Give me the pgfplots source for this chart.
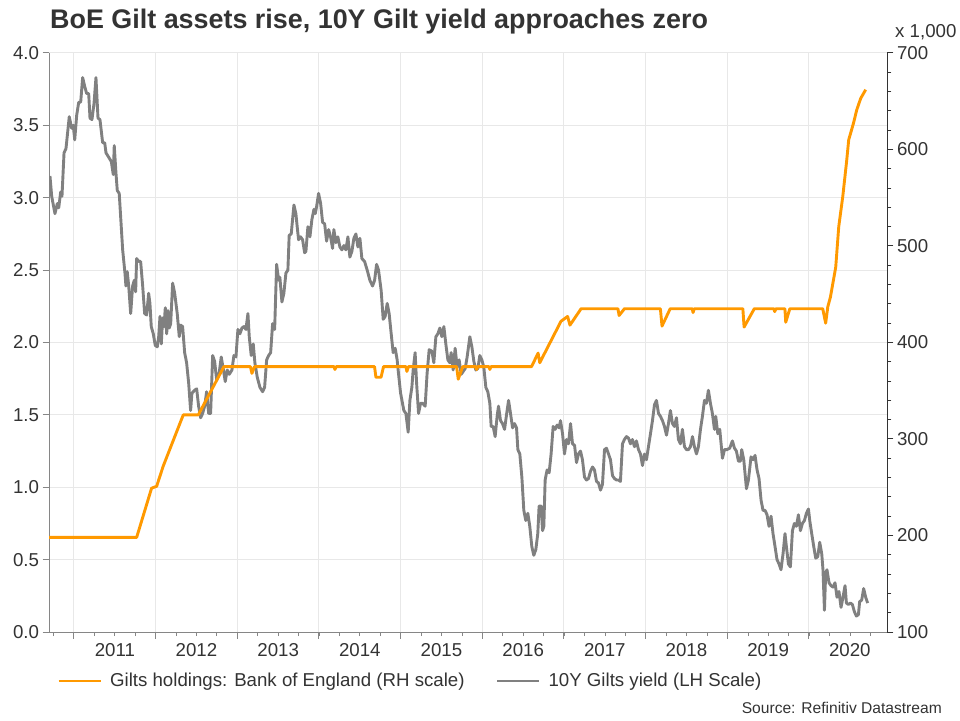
\documentclass[border=0pt]{standalone}
\usepackage{fontspec}
\setmainfont{Liberation Sans}
\usepackage{pgfplots}
\usepackage{pgfplotstable}
\pgfplotsset{compat=1.18}
\definecolor{gilt}{RGB}{128,128,128}
\definecolor{boe}{RGB}{255,153,0}
\definecolor{gridc}{RGB}{232,232,232}
\definecolor{axgray}{RGB}{134,134,134}
\definecolor{txt}{RGB}{51,51,51}

\pgfplotstableread{
x y
2010.706 3.15
2010.727 3.01
2010.767 2.89
2010.796 2.96
2010.813 2.93
2010.837 3.04
2010.853 3.01
2010.878 3.31
2010.902 3.34
2010.942 3.56
2010.972 3.48
2010.991 3.50
2011.009 3.40
2011.033 3.57
2011.058 3.66
2011.082 3.66
2011.106 3.83
2011.131 3.77
2011.155 3.72
2011.180 3.72
2011.196 3.55
2011.220 3.54
2011.245 3.65
2011.269 3.83
2011.294 3.55
2011.318 3.54
2011.351 3.38
2011.376 3.38
2011.392 3.31
2011.425 3.28
2011.457 3.25
2011.481 3.16
2011.493 3.36
2011.514 3.17
2011.530 3.05
2011.554 3.03
2011.596 2.64
2011.624 2.48
2011.636 2.39
2011.652 2.49
2011.670 2.39
2011.694 2.20
2011.718 2.39
2011.738 2.43
2011.755 2.35
2011.767 2.58
2011.792 2.56
2011.816 2.56
2011.841 2.39
2011.865 2.20
2011.890 2.19
2011.914 2.34
2011.930 2.27
2011.946 2.11
2011.971 2.06
2011.995 1.98
2012.020 1.97
2012.037 2.04
2012.053 2.18
2012.069 1.99
2012.086 2.17
2012.102 2.11
2012.118 2.24
2012.135 2.06
2012.151 2.22
2012.166 2.10
2012.184 2.13
2012.208 2.41
2012.233 2.34
2012.264 2.20
2012.289 2.04
2012.306 2.12
2012.330 2.11
2012.355 1.93
2012.379 1.86
2012.404 1.72
2012.428 1.53
2012.444 1.65
2012.477 1.67
2012.502 1.68
2012.526 1.56
2012.551 1.48
2012.575 1.51
2012.600 1.56
2012.624 1.66
2012.649 1.51
2012.673 1.51
2012.698 1.91
2012.722 1.87
2012.747 1.74
2012.778 1.79
2012.803 1.90
2012.827 1.82
2012.852 1.73
2012.876 1.81
2012.901 1.78
2012.934 1.81
2012.958 1.91
2012.983 1.90
2013.007 2.09
2013.032 2.06
2013.056 2.10
2013.081 2.11
2013.105 2.09
2013.130 2.20
2013.146 2.04
2013.170 1.91
2013.195 1.99
2013.215 1.86
2013.244 1.76
2013.277 1.69
2013.310 1.66
2013.334 1.69
2013.359 1.88
2013.383 1.91
2013.408 1.93
2013.432 2.13
2013.457 2.09
2013.481 2.54
2013.506 2.43
2013.521 2.45
2013.546 2.28
2013.570 2.34
2013.595 2.48
2013.619 2.50
2013.635 2.74
2013.660 2.75
2013.693 2.95
2013.717 2.89
2013.733 2.80
2013.750 2.71
2013.775 2.73
2013.799 2.71
2013.824 2.62
2013.840 2.63
2013.864 2.80
2013.889 2.73
2013.913 2.85
2013.938 2.92
2013.954 2.89
2013.971 2.94
2013.995 3.03
2014.020 2.96
2014.044 2.83
2014.069 2.82
2014.093 2.70
2014.118 2.78
2014.142 2.73
2014.166 2.65
2014.182 2.78
2014.207 2.69
2014.231 2.73
2014.256 2.66
2014.280 2.64
2014.305 2.67
2014.329 2.64
2014.354 2.73
2014.378 2.59
2014.403 2.63
2014.427 2.72
2014.452 2.75
2014.476 2.66
2014.501 2.72
2014.525 2.58
2014.558 2.56
2014.590 2.50
2014.623 2.43
2014.656 2.39
2014.681 2.43
2014.705 2.54
2014.729 2.50
2014.761 2.36
2014.786 2.16
2014.810 2.18
2014.835 2.27
2014.859 2.20
2014.884 2.06
2014.908 1.93
2014.933 1.96
2014.957 1.88
2014.969 1.81
2014.999 1.65
2015.039 1.53
2015.064 1.51
2015.092 1.38
2015.113 1.60
2015.137 1.69
2015.153 1.81
2015.177 1.93
2015.195 1.72
2015.219 1.51
2015.244 1.58
2015.268 1.58
2015.300 1.56
2015.324 1.79
2015.349 1.95
2015.382 1.94
2015.406 1.86
2015.431 2.04
2015.455 2.06
2015.480 2.10
2015.504 2.04
2015.529 2.11
2015.553 1.99
2015.578 1.88
2015.602 1.86
2015.618 1.93
2015.643 1.81
2015.667 1.96
2015.692 1.83
2015.716 1.88
2015.741 1.78
2015.765 1.80
2015.790 1.82
2015.814 1.90
2015.847 2.04
2015.872 1.97
2015.896 1.87
2015.920 1.81
2015.945 1.82
2015.969 1.91
2015.994 1.88
2016.018 1.83
2016.043 1.69
2016.067 1.66
2016.092 1.58
2016.108 1.42
2016.132 1.42
2016.157 1.35
2016.181 1.49
2016.198 1.56
2016.223 1.46
2016.247 1.44
2016.272 1.40
2016.296 1.50
2016.321 1.60
2016.345 1.51
2016.370 1.41
2016.394 1.44
2016.419 1.41
2016.435 1.26
2016.459 1.23
2016.484 1.07
2016.508 0.84
2016.532 0.77
2016.557 0.82
2016.581 0.73
2016.606 0.59
2016.630 0.53
2016.655 0.57
2016.679 0.68
2016.695 0.87
2016.720 0.87
2016.737 0.70
2016.753 0.73
2016.769 1.05
2016.793 1.12
2016.818 1.10
2016.842 1.23
2016.867 1.42
2016.891 1.40
2016.916 1.43
2016.940 1.41
2016.957 1.46
2016.982 1.37
2017.006 1.23
2017.031 1.33
2017.055 1.30
2017.080 1.44
2017.104 1.30
2017.129 1.29
2017.153 1.17
2017.177 1.23
2017.202 1.25
2017.226 1.19
2017.251 1.07
2017.275 1.05
2017.300 1.06
2017.324 1.11
2017.349 1.14
2017.373 1.12
2017.398 1.04
2017.422 1.03
2017.447 0.98
2017.471 1.02
2017.496 1.26
2017.520 1.27
2017.545 1.23
2017.569 1.19
2017.594 1.08
2017.618 1.06
2017.643 1.05
2017.667 1.05
2017.691 1.04
2017.716 1.30
2017.740 1.33
2017.765 1.35
2017.789 1.34
2017.814 1.30
2017.838 1.33
2017.863 1.28
2017.887 1.32
2017.912 1.26
2017.936 1.23
2017.961 1.15
2017.985 1.23
2018.010 1.19
2018.034 1.28
2018.059 1.37
2018.083 1.46
2018.108 1.57
2018.132 1.60
2018.157 1.51
2018.181 1.49
2018.206 1.46
2018.230 1.42
2018.255 1.36
2018.279 1.44
2018.303 1.53
2018.328 1.44
2018.352 1.42
2018.377 1.48
2018.401 1.33
2018.426 1.30
2018.450 1.40
2018.475 1.28
2018.499 1.26
2018.524 1.26
2018.548 1.28
2018.573 1.35
2018.597 1.28
2018.622 1.23
2018.646 1.28
2018.671 1.40
2018.695 1.49
2018.720 1.60
2018.744 1.58
2018.768 1.67
2018.793 1.58
2018.817 1.51
2018.842 1.40
2018.858 1.49
2018.883 1.37
2018.907 1.40
2018.940 1.20
2018.965 1.26
2018.996 1.26
2019.029 1.27
2019.062 1.32
2019.087 1.27
2019.111 1.25
2019.136 1.18
2019.160 1.18
2019.176 1.26
2019.201 1.19
2019.234 0.99
2019.258 1.05
2019.290 1.21
2019.315 1.19
2019.339 1.22
2019.364 1.12
2019.388 1.06
2019.413 0.91
2019.437 0.84
2019.462 0.84
2019.486 0.81
2019.510 0.73
2019.535 0.80
2019.559 0.68
2019.584 0.59
2019.608 0.50
2019.633 0.47
2019.657 0.43
2019.682 0.54
2019.706 0.68
2019.723 0.59
2019.748 0.47
2019.772 0.45
2019.797 0.70
2019.821 0.75
2019.846 0.73
2019.870 0.81
2019.895 0.70
2019.919 0.75
2019.944 0.77
2019.968 0.82
2019.993 0.85
2020.009 0.77
2020.033 0.68
2020.058 0.59
2020.082 0.51
2020.107 0.52
2020.131 0.62
2020.156 0.54
2020.171 0.43
2020.189 0.15
2020.204 0.41
2020.220 0.43
2020.245 0.34
2020.269 0.32
2020.294 0.31
2020.318 0.34
2020.343 0.24
2020.367 0.28
2020.392 0.17
2020.416 0.24
2020.441 0.32
2020.458 0.20
2020.482 0.19
2020.507 0.20
2020.531 0.19
2020.556 0.14
2020.580 0.11
2020.605 0.12
2020.620 0.21
2020.645 0.22
2020.669 0.30
2020.694 0.24
2020.718 0.20
}\yieldtable

\pgfplotstableread{
x y
2010.694 198
2011.767 198
2011.950 249
2012.012 251
2012.093 272
2012.338 325
2012.522 325
2012.836 375
2013.160 375
2013.179 368
2013.210 375
2014.185 375
2014.195 372
2014.210 375
2014.680 375
2014.697 364
2014.760 364
2014.790 375
2015.065 375
2015.076 370
2015.095 375
2015.685 375
2015.705 362
2015.760 375
2015.920 375
2015.929 372
2015.945 375
2016.082 375
2016.092 372
2016.105 375
2016.602 375
2016.683 389
2016.703 379
2016.963 422
2017.044 427
2017.073 418
2017.209 435
2017.660 435
2017.675 428
2017.740 435
2018.180 435
2018.200 417
2018.300 435
2018.570 435
2018.580 431
2018.595 435
2019.190 435
2019.205 416
2019.330 435
2019.570 435
2019.580 432
2019.595 435
2019.705 435
2019.715 421
2019.765 435
2020.168 435
2020.204 420
2020.230 437
2020.262 447
2020.327 478
2020.364 520
2020.413 551
2020.462 589
2020.486 610
2020.547 628
2020.584 641
2020.633 653
2020.694 662
}\boetable

\begin{document}
\begin{tikzpicture}[x=1pt,y=1pt]
\path[use as bounding box] (0,0) rectangle (960,720);
\node[anchor=base west, font=\fontsize{26.9}{30}\selectfont\bfseries, text=txt, inner sep=0pt] at (50,691.7) {BoE Gilt assets rise, 10Y Gilt yield approaches zero};
\node[anchor=base west, font=\fontsize{18.67}{22}\selectfont, text=txt, inner sep=0pt] at (895,682.7) {x 1,000};
\node[anchor=base east, font=\fontsize{15.6}{18}\selectfont, text=txt, inner sep=0pt] at (942,7) {Source: Refinitiv Datastream};

\begin{axis}[
  at={(49pt,88pt)}, anchor=south west,
  width=838pt, height=579pt, scale only axis,
  xmin=2010.694, xmax=2020.955, ymin=0, ymax=4,
  axis x line*=bottom, axis y line*=left,
  axis line style={axgray, line width=1pt},
  tick align=outside,
  major tick length=6.5pt, minor tick length=4pt,
  xtick={2011,...,2020},
  minor xtick={2010.75,2011,...,2020.75},
  scaled x ticks=false,
  xticklabel style={xshift=40.85pt, yshift=-1pt, /pgf/number format/1000 sep={}},
  ytick={0,0.5,...,4},
  yticklabel style={/pgf/number format/fixed, /pgf/number format/fixed zerofill, /pgf/number format/precision=1},
  /pgf/number format/assume math mode=true,
  tick label style={font=\fontsize{18.67}{22}\selectfont, text=txt},
  tick style={axgray, line width=1pt},
  xmajorgrids, ymajorgrids,
  grid style={gridc, line width=1pt},
]
\addplot[gilt, line width=2.9pt, line join=round] table[x=x, y=y] {\yieldtable};
\end{axis}

\begin{axis}[
  at={(49pt,88pt)}, anchor=south west,
  width=838pt, height=579pt, scale only axis,
  xmin=2010.694, xmax=2020.955, ymin=100, ymax=700,
  axis x line=none, axis y line*=right,
  axis line style={txt, line width=1pt},
  tick align=outside,
  major tick length=6.5pt, minor tick length=4.5pt,
  ytick={100,200,...,700}, minor y tick num=4,
  /pgf/number format/assume math mode=true,
  tick label style={font=\fontsize{18.67}{22}\selectfont, text=txt},
  tick style={txt, line width=1pt},
  legend columns=2,
  legend cell align=left,
  legend image code/.code={\draw[#1] (0pt,0pt) -- (42pt,0pt);},
  legend style={draw=none, fill=none, inner sep=0pt,
    at={(0.00955,-0.0846)}, anchor=west,
    font=\fontsize{18.67}{22}\selectfont, text=txt,
    nodes={inner sep=0pt, text=txt},
    /tikz/every odd column/.append style={column sep=8pt},
    /tikz/every even column/.append style={column sep=31pt}},
]
\addplot[boe, line width=2.9pt, line join=round] table[x=x, y=y] {\boetable};
\addlegendentry{Gilts holdings: Bank of England (RH scale)}
\addlegendimage{gilt, line width=2.9pt}
\addlegendentry{10Y Gilts yield (LH Scale)}
\end{axis}
\end{tikzpicture}
\end{document}
